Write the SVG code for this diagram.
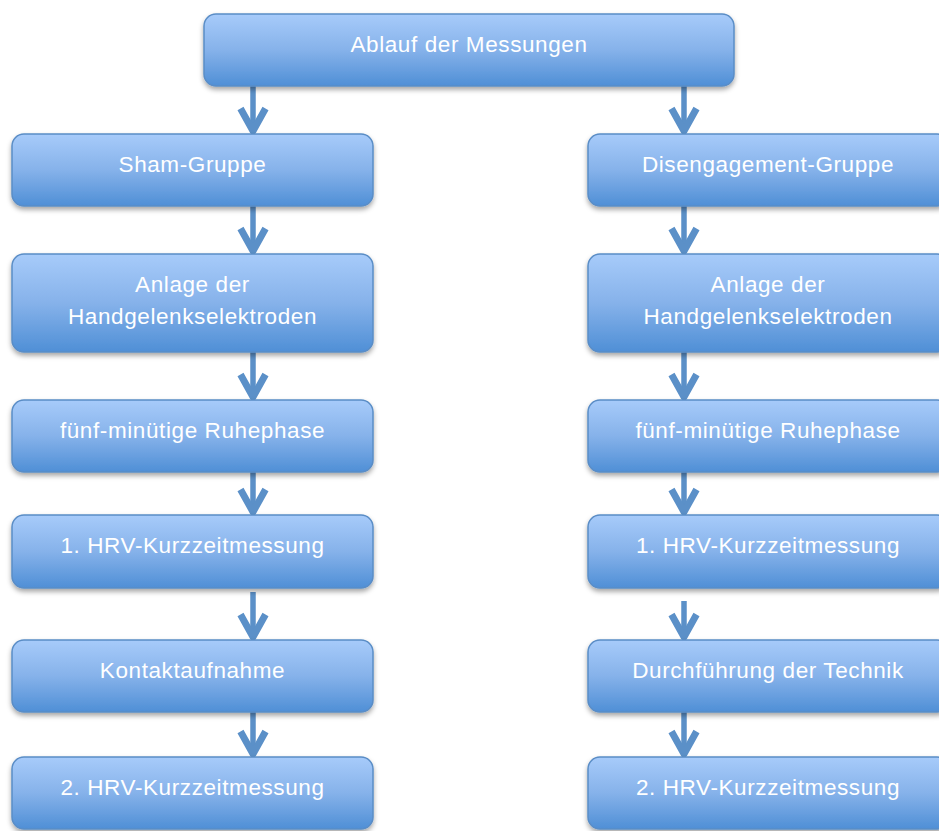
<svg xmlns="http://www.w3.org/2000/svg" width="939" height="831" viewBox="0 0 939 831">
<defs>
<linearGradient id="g" x1="0" y1="0" x2="0" y2="1">
<stop offset="0" stop-color="#a7cbfa"/>
<stop offset="0.5" stop-color="#86b2ea"/>
<stop offset="1" stop-color="#4f8fd6"/>
</linearGradient>
<filter id="sh" x="-10%" y="-20%" width="120%" height="150%">
<feDropShadow dx="0" dy="3" stdDeviation="2.5" flood-color="#000" flood-opacity="0.35"/>
</filter>
<marker id="ah" markerUnits="userSpaceOnUse" markerWidth="40" markerHeight="40" refX="0" refY="0" viewBox="-24 -16 30 32" orient="auto" overflow="visible">
<path d="M-18,-10 L0,0 L-18,10" fill="none" stroke="#5b90c8" stroke-width="5.5" stroke-linejoin="round" stroke-linecap="butt"/>
</marker>
<style>
.box{fill:url(#g);stroke:#5a8dc6;stroke-width:1.5;filter:url(#sh)}
.t{font-family:"Liberation Sans",Arial,Helvetica,sans-serif;font-size:22.5px;fill:#ffffff;text-anchor:middle;letter-spacing:0.6px}
.c{fill:none;stroke:#5b90c8;stroke-width:5.5;marker-end:url(#ah)}
</style>
</defs>
<rect width="939" height="831" fill="#ffffff"/>
<g id="connectors">
<path class="c" d="M253,86 V131"/>
<path class="c" d="M684,86 V131"/>
<path class="c" d="M253,206 V251"/>
<path class="c" d="M253,352 V397"/>
<path class="c" d="M253,472 V512"/>
<path class="c" d="M253,592 V637"/>
<path class="c" d="M253,712 V754"/>
<path class="c" d="M684,206 V251"/>
<path class="c" d="M684,352 V397"/>
<path class="c" d="M684,472 V512"/>
<path class="c" d="M684,601 V637"/>
<path class="c" d="M684,712 V754"/>
</g>
<g id="n-top"><rect class="box" x="204" y="14" width="530" height="72" rx="12"/><text class="t" x="469" y="52">Ablauf der Messungen</text></g>
<g id="n-l1"><rect class="box" x="12" y="134" width="361" height="72" rx="12"/><text class="t" x="192.5" y="172">Sham-Gruppe</text></g>
<g id="n-l2"><rect class="box" x="12" y="254" width="361" height="98" rx="12"/><text class="t" x="192.5" y="292">Anlage der</text><text class="t" x="192.5" y="324">Handgelenkselektroden</text></g>
<g id="n-l3"><rect class="box" x="12" y="400" width="361" height="72" rx="12"/><text class="t" x="192.5" y="438">fünf-minütige Ruhephase</text></g>
<g id="n-l4"><rect class="box" x="12" y="515" width="361" height="73" rx="12"/><text class="t" x="192.5" y="553">1. HRV-Kurzzeitmessung</text></g>
<g id="n-l5"><rect class="box" x="12" y="640" width="361" height="72" rx="12"/><text class="t" x="192.5" y="678">Kontaktaufnahme</text></g>
<g id="n-l6"><rect class="box" x="12" y="757" width="361" height="72" rx="12"/><text class="t" x="192.5" y="795">2. HRV-Kurzzeitmessung</text></g>
<g id="n-r1"><rect class="box" x="588" y="134" width="361" height="72" rx="12"/><text class="t" x="768" y="172">Disengagement-Gruppe</text></g>
<g id="n-r2"><rect class="box" x="588" y="254" width="361" height="98" rx="12"/><text class="t" x="768" y="292">Anlage der</text><text class="t" x="768" y="324">Handgelenkselektroden</text></g>
<g id="n-r3"><rect class="box" x="588" y="400" width="361" height="72" rx="12"/><text class="t" x="768" y="438">fünf-minütige Ruhephase</text></g>
<g id="n-r4"><rect class="box" x="588" y="515" width="361" height="73" rx="12"/><text class="t" x="768" y="553">1. HRV-Kurzzeitmessung</text></g>
<g id="n-r5"><rect class="box" x="588" y="640" width="361" height="72" rx="12"/><text class="t" x="768" y="678">Durchführung der Technik</text></g>
<g id="n-r6"><rect class="box" x="588" y="757" width="361" height="72" rx="12"/><text class="t" x="768" y="795">2. HRV-Kurzzeitmessung</text></g>
</svg>
